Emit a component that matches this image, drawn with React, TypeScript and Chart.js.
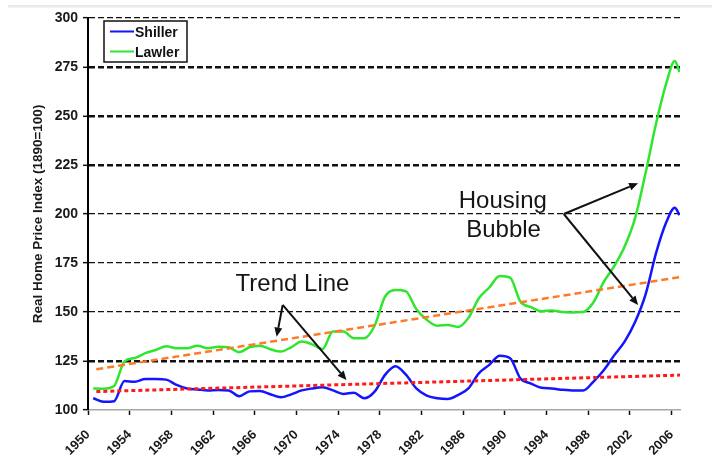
import React, { useEffect, useRef } from 'react';
import { Chart, registerables } from 'chart.js';

Chart.register(...registerables);

const years = [
  1950.5, 1951.5, 1952.5, 1953.5, 1954.5, 1955.5, 1956.5, 1957.5, 1958.5, 1959.5,
  1960.5, 1961.5, 1962.5, 1963.5, 1964.5, 1965.5, 1966.5, 1967.5, 1968.5, 1969.5,
  1970.5, 1971.5, 1972.5, 1973.5, 1974.5, 1975.5, 1976.5, 1977.5, 1978.5, 1979.5,
  1980.5, 1981.5, 1982.5, 1983.5, 1984.5, 1985.5, 1986.5, 1987.5, 1988.5, 1989.5,
  1990.5, 1991.5, 1992.5, 1993.5, 1994.5, 1995.5, 1996.5, 1997.5, 1998.5, 1999.5,
  2000.5, 2001.5, 2002.5, 2003.5, 2004.5, 2005.5, 2006.3, 2006.75,
];

const shiller = [
  106, 104.2, 104.5, 114.8, 114.4, 115.8, 115.8, 115.5, 112.8, 111,
  110.5, 110, 110.2, 110, 107, 109.5, 109.7, 108, 106.5, 108,
  110, 111, 111.6, 110, 108.2, 108.8, 106, 109.4, 117.9, 122.3,
  118, 111, 107.3, 106, 105.6, 107.6, 111, 118.7, 123, 127.7,
  126.4, 116, 113.5, 111.3, 111, 110.3, 110, 109.9, 114.5, 120.4,
  128, 135, 145, 159, 180, 196, 203.2, 199.5,
];

const lawler = [
  111, 110.8, 112.2, 124.8, 126.5, 129, 130.6, 132.5, 131.5, 131.5,
  132.8, 131.5, 132.3, 132, 129.5, 132, 132.8, 131, 129.8, 132,
  134.9, 133.5, 131.1, 140, 140, 136.6, 136.6, 143, 157.8, 161.2,
  160.5, 151.5, 146, 143, 143.4, 142.4, 147, 157, 162.5, 168.4,
  167.5, 155.2, 152.5, 150.4, 150.8, 150, 149.8, 150, 155, 165.5,
  173.5, 183.5, 198, 221, 246, 267, 278, 272.5,
];

const trendYears = [1950.8, 2006.8];
const lawlerTrend = [120.8, 167.8];
const shillerTrend = [109.4, 117.8];

const xTickYears = [1950, 1954, 1958, 1962, 1966, 1970, 1974, 1978, 1982, 1986, 1990, 1994, 1998, 2002, 2006];
const thickGridValues = [125, 225, 250, 275];

const annotationTexts = [
  { text: 'Trend Line', x: 1969.62, y: 160.7 },
  { text: 'Housing', x: 1989.8, y: 203.2 },
  { text: 'Bubble', x: 1989.87, y: 188.4 },
];

const arrows = [
  { from: [1968.68, 153.6], to: [1968.1, 137.4] },
  { from: [1968.68, 153.6], to: [1974.8, 115.3] },
  { from: [1995.65, 200.0], to: [2002.78, 215.7] },
  { from: [1995.65, 200.0], to: [2002.78, 153.6] },
];

const FONT = '"Liberation Sans", Arial, Helvetica, sans-serif';
const BLUE = '#1414ff';
const GREEN = '#2fe62f';

const toPts = (xs: number[], ys: number[]) => xs.map((v, i) => ({ x: v, y: ys[i] }));

const annotPlugin = {
  id: 'annot',
  afterDatasetsDraw(chart: any) {
    const { ctx, scales, chartArea } = chart;
    const xs = scales.x;
    const ys = scales.y;
    ctx.save();
    ctx.fillStyle = '#151515';
    ctx.font = `24px ${FONT}`;
    ctx.textAlign = 'center';
    ctx.textBaseline = 'alphabetic';
    annotationTexts.forEach((t) => {
      ctx.fillText(t.text, xs.getPixelForValue(t.x), ys.getPixelForValue(t.y));
    });
    ctx.strokeStyle = '#111';
    ctx.fillStyle = '#111';
    ctx.lineWidth = 2;
    arrows.forEach((a) => {
      const x0 = xs.getPixelForValue(a.from[0]);
      const y0 = ys.getPixelForValue(a.from[1]);
      const x1 = xs.getPixelForValue(a.to[0]);
      const y1 = ys.getPixelForValue(a.to[1]);
      const ang = Math.atan2(y1 - y0, x1 - x0);
      const len = 9;
      const hw = 4;
      const bx = x1 - len * Math.cos(ang);
      const by = y1 - len * Math.sin(ang);
      ctx.beginPath();
      ctx.moveTo(x0, y0);
      ctx.lineTo(bx, by);
      ctx.stroke();
      ctx.beginPath();
      ctx.moveTo(x1, y1);
      ctx.lineTo(bx + hw * Math.sin(ang), by - hw * Math.cos(ang));
      ctx.lineTo(bx - hw * Math.sin(ang), by + hw * Math.cos(ang));
      ctx.closePath();
      ctx.fill();
    });
    const lx = chartArea.left + 16;
    const ly = chartArea.top + 3;
    ctx.fillStyle = '#fff';
    ctx.fillRect(lx, ly, 83, 41);
    ctx.strokeStyle = '#111';
    ctx.lineWidth = 1.5;
    ctx.strokeRect(lx, ly, 83, 41);
    const entries = [
      { label: 'Shiller', color: BLUE },
      { label: 'Lawler', color: GREEN },
    ];
    ctx.font = `bold 14px ${FONT}`;
    ctx.textAlign = 'left';
    entries.forEach((e, i) => {
      const cy = ly + 10.5 + i * 20;
      ctx.strokeStyle = e.color;
      ctx.lineWidth = 2;
      ctx.beginPath();
      ctx.moveTo(lx + 6, cy);
      ctx.lineTo(lx + 30, cy);
      ctx.stroke();
      ctx.fillStyle = '#111';
      ctx.fillText(e.label, lx + 31, cy + 5.5);
    });
    ctx.restore();
  },
};

export default function App() {
  const ref = useRef<HTMLCanvasElement>(null);

  useEffect(() => {
    if (!ref.current) return;
    const chart = new Chart(ref.current, {
      type: 'line',
      data: {
        datasets: [
          {
            label: 'Shiller trend',
            data: toPts(trendYears, shillerTrend),
            borderColor: '#ff1a1a',
            borderWidth: 3,
            borderDash: [4, 3],
            pointRadius: 0,
            fill: false,
          },
          {
            label: 'Lawler trend',
            data: toPts(trendYears, lawlerTrend),
            borderColor: '#ff7a26',
            borderWidth: 2.5,
            borderDash: [7, 4],
            pointRadius: 0,
            fill: false,
          },
          {
            label: 'Shiller',
            data: toPts(years, shiller),
            borderColor: BLUE,
            borderWidth: 2.5,
            pointRadius: 0,
            cubicInterpolationMode: 'monotone',
            fill: false,
          },
          {
            label: 'Lawler',
            data: toPts(years, lawler),
            borderColor: GREEN,
            borderWidth: 2.5,
            pointRadius: 0,
            cubicInterpolationMode: 'monotone',
            fill: false,
          },
        ],
      },
      options: {
        responsive: false,
        animation: false,
        layout: { padding: { top: 18, right: 32, left: 0, bottom: 0 } },
        plugins: {
          legend: { display: false },
          tooltip: { enabled: false },
        },
        scales: {
          x: {
            type: 'linear',
            min: 1950,
            max: 2006.8,
            afterBuildTicks: (scale: any) => {
              scale.ticks = xTickYears.map((v) => ({ value: v }));
            },
            afterFit: (scale: any) => {
              scale.height = 50;
            },
            grid: {
              drawOnChartArea: false,
              drawTicks: true,
              tickLength: 5,
              tickColor: '#111',
              tickWidth: 1.5,
            },
            border: { display: true, color: '#a8a8a8', width: 1.5 },
            ticks: {
              autoSkip: false,
              minRotation: 45,
              maxRotation: 45,
              padding: 12,
              color: '#1a1a1a',
              font: { family: FONT, size: 13, weight: 'bold' },
              callback: (v: any) => String(v),
            },
          },
          y: {
            min: 100,
            max: 300,
            afterFit: (scale: any) => {
              scale.width = 88;
            },
            ticks: {
              stepSize: 25,
              padding: 5,
              color: '#1a1a1a',
              font: { family: FONT, size: 14, weight: 'bold' },
            },
            grid: {
              color: (c: any) => (c.tick && c.tick.value === 100 ? 'rgba(0,0,0,0)' : '#111'),
              lineWidth: (c: any) => (c.tick && thickGridValues.includes(c.tick.value) ? 2.6 : 1.3),
              tickLength: 5,
              tickColor: '#111',
              tickWidth: 1.5,
            },
            border: { display: true, color: '#000', width: 2, dash: [6, 3] },
            title: {
              display: true,
              text: 'Real Home Price Index (1890=100)',
              color: '#1a1a1a',
              font: { family: FONT, size: 13.5, weight: 'bold' },
              padding: { top: 30, bottom: 0 },
            },
          },
        },
      },
      plugins: [annotPlugin],
    } as any);
    return () => chart.destroy();
  }, []);

  return (
    <div style={{ position: 'absolute', left: 0, top: 0, width: 712, height: 460, background: '#fff', overflow: 'hidden' }}>
      <div style={{ position: 'absolute', left: 8, top: 5, width: 704, height: 3, background: 'linear-gradient(#e4e4e4, #f4f4f4)' }} />
      <canvas ref={ref} width={712} height={460} style={{ position: 'absolute', left: 0, top: 0, width: 712, height: 460 }} />
    </div>
  );
}
